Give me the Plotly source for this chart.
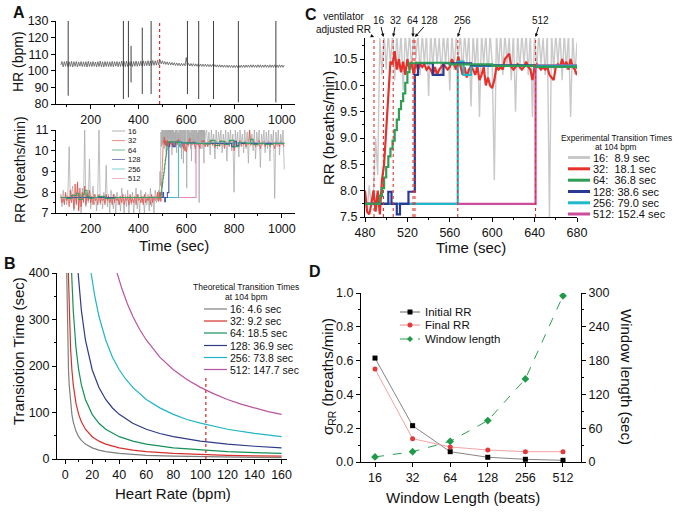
import plotly.graph_objects as go

W, H = 682, 512
FONT = "Liberation Sans, Arial, Helvetica, sans-serif"

# ─── Panel A: heart rate ─────────────────────────────────────
hr_time = list(range(75, 1011, 5))
hr_bpm = [
    103.5, 105.6, 102.4, 105.5, 102.8, 105.8, 102.5, 105.4, 102.6, 105.7,
    102.3, 105.5, 102.7, 105.6, 102.4, 105.3, 102.8, 105.6, 102.5, 105.4,
    102.6, 105.5, 102.3, 105.7, 102.6, 105.4, 102.5, 105.6, 102.7, 105.3,
    102.4, 105.5, 102.6, 105.8, 102.5, 105.4, 102.3, 105.6, 102.7, 105.5,
    102.5, 105.4, 102.6, 105.7, 102.4, 105.5, 102.8, 105.6, 102.5, 105.4,
    102.6, 105.9, 102.7, 105.6, 102.5, 105.8, 102.6, 105.5, 102.9, 105.7,
    102.6, 105.6, 102.8, 105.9, 102.7, 105.5, 102.9, 105.8, 102.8, 106.0,
    103.0, 105.7, 103.1, 106.1, 103.0, 105.9, 103.2, 106.2, 103.3, 106.0,
    103.4, 106.3, 103.5,
    106.4, 104.2, 106.0, 104.0, 105.6, 103.8, 105.4, 103.6, 105.2, 103.5,
    105.0, 103.4, 104.9, 103.2, 104.7, 103.1, 104.6, 103.0, 104.5, 103.0,
    104.4, 103.0, 108.0,
    103.0, 104.5, 102.9, 104.4, 102.8, 104.3, 102.8, 104.2, 102.7, 104.2,
    102.7, 104.1, 102.6, 104.0, 102.6, 104.0, 102.5, 103.9, 102.5, 103.8,
    102.4, 103.8, 102.4, 103.7, 102.3, 103.6, 102.2, 103.6, 102.2, 103.5,
    102.1, 103.5, 102.1, 103.4, 102.0, 103.4, 102.0, 103.3, 101.9, 103.3,
    101.9, 103.3, 101.9, 103.4, 102.0, 103.4, 102.0, 103.5, 102.0, 103.5,
    102.1, 103.5, 102.0, 103.6, 102.1, 103.6, 102.1, 103.5, 102.0, 103.6,
    102.1, 103.6, 102.0, 103.5, 102.1, 103.6, 102.1, 103.5, 102.0, 103.6,
    102.1, 103.5, 102.0, 103.6, 102.1, 103.5, 102.0, 103.6, 102.1, 103.5,
    102.1, 103.4,
]
hr_spike_time = [106, 337, 358, 369, 416, 453, 605, 652, 714, 818, 975]
hr_spike_low = [85, 83, 84, 93, 86, 86, 86, 83, 83, 81, 81]
hr_spike_high = [130, 130, 130, 115, 126, 130, 130, 130, 130, 130, 130]
vent_time = 488.5

# ─── Respiratory rate estimates (A bottom + C) ──────────────
rr_time_pre = list(range(75, 480, 5))
rr_time_zoom = list(range(480, 681, 2))
rr_time_post = list(range(685, 1011, 5))

rr16_pre = [
    7.8, 7.3, 8.1, 7.5, 7.9, 7.4, 8.0, 10.2, 7.6, 7.9,
    8.3, 7.1, 7.8, 7.5, 8.4, 7.2, 7.9, 7.0, 8.2, 7.6,
    11.0, 7.3, 8.0, 7.5, 9.6, 7.2, 7.8, 8.3, 7.4, 7.9,
    7.1, 8.1, 11.0, 7.4, 7.8, 7.2, 8.0, 7.5, 9.3, 7.3,
    7.9, 7.0, 8.1, 7.6, 7.2, 7.9, 7.0, 8.0, 7.4, 7.8,
    7.1, 8.2, 7.5, 7.0, 7.9, 7.3, 8.1, 7.0, 7.8, 7.4,
    8.0, 7.0, 7.7, 8.2, 7.2, 7.9, 7.0, 8.1, 7.5, 7.8,
    7.0, 8.0, 7.4, 7.9, 7.1, 8.2, 7.3, 7.8, 7.0, 8.1,
    7.5,
]
rr16_zoom = [
    7.9, 7.6, 8.1, 7.7, 8.0, 9.0, 8.3, 10.9, 10.2, 11.0,
    10.3, 11.0, 10.4, 11.0, 10.1, 11.0, 10.3, 11.0, 9.9, 11.0,
    10.4, 11.0, 10.3, 11.0, 10.5, 11.0, 10.2, 11.0, 10.4, 11.0,
    9.8, 11.0, 10.3, 11.0, 10.4, 10.9, 10.2, 11.0, 10.4, 11.0,
    9.9, 11.0, 10.3, 10.9, 10.5, 11.0, 10.2, 11.0, 10.4, 11.0,
    9.6, 11.0, 10.3, 11.0, 9.4, 11.0, 10.4, 11.0, 10.1, 11.0,
    10.4, 8.2, 11.0, 10.3, 11.0, 10.2, 11.0, 10.4, 10.9, 10.1,
    11.0, 9.5, 11.0, 10.3, 11.0, 10.4, 11.0, 10.2, 11.0, 9.4,
    11.0, 10.3, 11.0, 10.4, 10.9, 10.2, 11.0, 7.5, 11.0, 10.3,
    11.0, 10.4, 11.0, 10.1, 11.0, 10.3, 11.0, 9.4, 11.0, 10.2,
    10.8,
]
rr16_post = [
    11.0, 10.2, 10.9, 9.8, 11.0, 10.3, 10.8, 9.6, 11.0, 10.1,
    10.9, 10.4, 11.0, 9.9, 10.8, 10.2, 11.0, 9.5, 10.9, 10.3,
    11.0, 10.0, 10.8, 8.0, 11.0, 10.2, 10.9, 9.7, 11.0, 10.3,
    10.8, 9.9, 11.0, 10.1, 10.9, 9.4, 11.0, 10.3, 10.8, 10.0,
    11.0, 9.6, 10.9, 10.2, 11.0, 9.2, 10.8, 10.3, 11.0, 9.9,
    10.9, 10.1, 11.0, 9.5, 10.8, 10.3, 11.0, 7.7, 10.9, 10.2,
    11.0, 9.8, 10.8, 10.3, 11.0, 9.1,
]

rr32_pre = [
    7.9, 7.5, 7.7, 7.4, 8.0, 7.6, 7.8, 7.3, 8.1, 7.5,
    7.9, 7.2, 8.4, 7.4, 8.5, 7.1, 8.2, 7.3, 8.0, 7.5,
    8.3, 7.4, 7.9, 7.6, 8.1, 7.5, 7.8, 7.4, 7.9, 7.6,
    7.7, 7.4, 7.9, 7.5, 7.8, 7.6, 7.7, 7.4, 7.9, 7.6,
    7.8, 7.5, 7.7, 7.4, 7.9, 7.5, 7.8, 7.6, 7.7, 7.4,
    7.8, 7.5, 7.9, 7.4, 7.7, 7.6, 7.8, 7.4, 7.9, 7.5,
    7.7, 7.5, 7.8, 7.4, 7.9, 7.6, 7.7, 7.5, 7.8, 7.4,
    7.9, 7.5, 7.7, 7.6, 7.8, 7.4, 7.9, 7.5, 7.8, 7.6,
    7.7,
]
rr32_zoom = [
    8.0, 7.6, 7.55, 7.75, 8.0, 7.6, 8.0, 7.55, 8.2, 8.5,
    9.1, 9.9, 10.45, 10.4, 10.65, 10.3, 10.5, 10.25, 10.45, 10.2,
    10.5, 10.3, 10.45, 10.2, 10.45, 10.3, 10.4, 10.35, 10.4, 10.3,
    10.35, 10.3, 10.2, 10.35, 10.2, 10.3, 10.35, 10.4, 10.35, 10.3,
    10.35, 10.5, 10.4, 10.3, 10.55, 10.35, 10.2, 10.35, 10.15, 10.3,
    10.35, 10.3, 10.2, 10.35, 10.1, 10.2, 10.35, 10.0, 10.15, 10.0,
    9.95, 10.1, 10.35, 10.3, 10.35, 10.3, 10.5, 10.55, 10.6, 10.35,
    10.3, 10.35, 10.4, 10.35, 10.3, 10.35, 10.45, 10.35, 10.3, 10.1,
    10.35, 10.4, 10.35, 10.3, 10.35, 10.3, 10.35, 10.2, 10.15, 10.1,
    10.35, 10.4, 10.35, 10.5, 10.35, 10.45, 10.3, 10.5, 10.35, 10.3,
    10.2,
]
rr32_post = [
    10.4, 10.2, 10.45, 10.3, 10.5, 10.25, 10.4, 10.15, 10.45, 10.3,
    10.35, 10.2, 10.5, 10.3, 10.4, 10.1, 10.45, 10.3, 10.35, 10.2,
    10.5, 10.3, 10.4, 10.0, 10.45, 10.25, 10.35, 10.3, 10.5, 10.2,
    10.4, 10.3, 10.45, 10.2, 10.35, 10.3, 11.0, 10.25, 10.4, 10.3,
    10.45, 10.2, 10.35, 10.3, 10.5, 10.1, 10.4, 10.3, 10.45, 10.2,
    10.35, 10.3, 10.45, 10.2, 10.4, 10.3, 10.35, 10.1, 10.45, 10.3,
    10.4, 10.2, 10.45, 10.3, 10.35, 10.2,
]

rr64_time = [75, 100, 120, 140, 150, 165, 175, 185, 195, 210,
             230, 260, 300, 350, 400, 450, 494, 496, 498, 500,
             502, 504, 506, 508, 510, 512, 514, 516, 518, 520,
             522, 530, 560, 600, 640, 680, 700, 720, 740, 760,
             780, 800, 820, 850, 870, 880, 900, 930, 960, 1010]
rr64 = [7.75, 7.7, 7.85, 7.95, 7.65, 7.9, 8.1, 7.8, 7.7, 7.75,
        7.8, 7.7, 7.75, 7.75, 7.75, 7.75, 7.9, 8.05, 8.25, 8.45,
        8.65, 8.8, 8.95, 9.15, 9.35, 9.55, 9.7, 9.85, 10.05, 10.25,
        10.42, 10.43, 10.4, 10.37, 10.35, 10.33, 10.5, 10.25, 10.45, 10.3,
        10.5, 10.2, 10.4, 10.35, 10.55, 10.3, 10.35, 10.3, 10.35, 10.35]
rr128_time = [75, 490, 502, 505, 510, 513, 521, 527, 530, 544, 554,
              580, 640, 700, 780, 790, 800, 810, 820, 830, 900, 1010]
rr128 = [7.75, 7.75, 7.98, 7.75, 7.55, 7.75, 7.98, 10.2, 10.42, 10.2, 10.42,
         10.38, 10.35, 10.35, 10.35, 10.2, 10.45, 10.25, 10.4, 10.35, 10.35, 10.35]
rr256_time = [75, 567.5, 573, 580, 1010]
rr256 = [7.75, 10.45, 10.2, 10.37, 10.37]
rr512_time = [75, 640.9, 1010]
rr512 = [7.75, 10.38, 10.38]

window_beats = [16, 32, 64, 128, 256, 512]
exp_transition_sec = [8.9, 18.1, 36.8, 38.6, 79.0, 152.4]
theo_transition_sec = [4.6, 9.2, 18.5, 36.9, 73.8, 147.7]

# ─── Panel B: theoretical transition time vs heart rate ─────
b_hr16 = [1.2, 1.5, 2, 2.5, 3, 4, 5, 6, 8, 10, 12, 15, 20, 25, 30, 40, 50, 60, 80, 100, 120, 140, 160]
b_t16 = [400, 320, 240, 192, 160, 120, 96, 80, 60, 48, 40, 32, 24, 19.2, 16, 12, 9.6, 8, 6, 4.8, 4, 3.4, 3]
b_hr32 = [2.4, 3, 4, 5, 6, 8, 10, 12, 15, 20, 25, 30, 40, 50, 60, 80, 100, 120, 140, 160]
b_t32 = [400, 320, 240, 192, 160, 120, 96, 80, 64, 48, 38.4, 32, 24, 19.2, 16, 12, 9.6, 8, 6.9, 6]
b_hr64 = [4.8, 6, 8, 10, 12, 15, 20, 25, 30, 40, 50, 60, 80, 100, 120, 140, 160]
b_t64 = [400, 320, 240, 192, 160, 128, 96, 76.8, 64, 48, 38.4, 32, 24, 19.2, 16, 13.7, 12]
b_hr128 = [9.6, 12, 15, 20, 25, 30, 35, 40, 50, 60, 70, 80, 100, 120, 140, 160]
b_t128 = [400, 320, 256, 192, 153.6, 128, 109.7, 96, 76.8, 64, 54.9, 48, 38.4, 32, 27.4, 24]
b_hr256 = [19.2, 22, 25, 30, 35, 40, 45, 50, 60, 70, 80, 90, 100, 120, 140, 160]
b_t256 = [400, 349, 307, 256, 219, 192, 171, 154, 128, 110, 96, 85, 77, 64, 55, 48]
b_hr512 = [38.4, 42, 46, 50, 55, 60, 70, 80, 90, 100, 110, 120, 130, 140, 150, 160]
b_t512 = [400, 366, 334, 307, 279, 256, 219, 192, 171, 154, 140, 128, 118, 110, 102, 96]
b_marker_hr = [104, 104]
b_marker_t = [0, 175]

# ─── Panel D: variability vs window length ──────────────────
sigma_initial = [0.615, 0.215, 0.061, 0.028, 0.016, 0.010]
sigma_final = [0.55, 0.138, 0.089, 0.071, 0.061, 0.061]
window_sec = [9.0, 18.3, 36.7, 73.5, 147.5, 295.0]

# ─── Colours ─────────────────────────────────────────────────
A_COLORS = ["#a4a4a4", "#e5433c", "#3c9e62", "#4556a5", "#4fbecb", "#e889b8"]
A_LEG_COLORS = ["#b0b0b0", "#ec8a86", "#70b890", "#7c86bb", "#82cfd7", "#f2b3d0"]
B_COLORS = ["#7f7f7f", "#d6302c", "#14915a", "#2e3b87", "#1fb5c5", "#b9539f"]
C_COLORS = ["#c9c9c9", "#e8302a", "#2e9e55", "#283a94", "#22b8cc", "#cc4c9c"]
DOT_RED = "#e8302a"


def X(p):
    return p / W


def Y(p):
    return 1 - p / H


fig = go.Figure()

# A top: heart rate
fig.add_trace(go.Scatter(x=hr_time, y=hr_bpm, mode="lines", xaxis="x", yaxis="y",
                         line=dict(color="#5a5a5a", width=0.8)))
sx, sy = [], []
for t, lo, hi in zip(hr_spike_time, hr_spike_low, hr_spike_high):
    sx += [t, t, None]
    sy += [lo, hi, None]
fig.add_trace(go.Scatter(x=sx, y=sy, mode="lines", xaxis="x", yaxis="y",
                         line=dict(color="#2a2a2a", width=0.9)))

# A bottom + C: respiratory rate
rr_time_full = rr_time_pre + rr_time_zoom + rr_time_post
rr16_full = rr16_pre + rr16_zoom + rr16_post
rr32_full = rr32_pre + rr32_zoom + rr32_post

series = [
    (rr_time_full, rr16_full, 0, "linear"),
    (rr_time_full, rr32_full, 1, "linear"),
    (rr512_time, rr512, 5, "hv"),
    (rr256_time, rr256, 4, "hv"),
    (rr128_time, rr128, 3, "hv"),
    (rr64_time, rr64, 2, "hv"),
]
for tx, vals, ci, shape in series:
    fig.add_trace(go.Scatter(x=tx, y=vals, mode="lines", xaxis="x2", yaxis="y2",
                             line=dict(color=A_COLORS[ci], width=0.7 if ci < 2 else 1.1, shape=shape)))
for tx, vals, ci, shape in series:
    fig.add_trace(go.Scatter(x=tx, y=vals, mode="lines", xaxis="x3", yaxis="y3",
                             line=dict(color=C_COLORS[ci], width=1.4 if ci == 0 else 2.2, shape=shape)))

# B: theoretical curves
b_curves = [(b_hr16, b_t16), (b_hr32, b_t32), (b_hr64, b_t64),
            (b_hr128, b_t128), (b_hr256, b_t256), (b_hr512, b_t512)]
for (hx, ty), col in zip(b_curves, B_COLORS):
    fig.add_trace(go.Scatter(x=hx, y=ty, mode="lines", xaxis="x4", yaxis="y4",
                             line=dict(color=col, width=1.2)))
fig.add_trace(go.Scatter(x=b_marker_hr, y=b_marker_t, mode="lines", xaxis="x4", yaxis="y4",
                         line=dict(color=DOT_RED, width=1.3, dash="dot")))

# D
fig.add_trace(go.Scatter(x=window_beats, y=sigma_initial, mode="lines+markers", xaxis="x5", yaxis="y5",
                         line=dict(color="#666666", width=0.8),
                         marker=dict(symbol="square", size=5, color="black")))
fig.add_trace(go.Scatter(x=window_beats, y=sigma_final, mode="lines+markers", xaxis="x5", yaxis="y5",
                         line=dict(color="#f08a8a", width=0.8),
                         marker=dict(symbol="circle", size=5, color="#e03a3a")))
fig.add_trace(go.Scatter(x=window_beats, y=window_sec, mode="lines+markers", xaxis="x5", yaxis="y6",
                         line=dict(color="#2aa050", width=1, dash="dash"),
                         marker=dict(symbol="diamond", size=6, color="#1f9a48")))

# ─── Dotted transition markers ──────────────────────────────
shapes = [dict(type="line", xref="x", yref="y domain", x0=vent_time, x1=vent_time, y0=0, y1=1,
               line=dict(color=DOT_RED, width=1.2, dash="dot"))]
for t in [vent_time] + [vent_time + s for s in exp_transition_sec]:
    shapes.append(dict(type="line", xref="x3", yref="y3 domain", x0=t, x1=t, y0=0, y1=1,
                       line=dict(color=DOT_RED, width=1.1, dash="dot")))

annotations = []


def txt(x, y, text, size, **kw):
    d = dict(x=X(x), y=Y(y), xref="paper", yref="paper", text=text, showarrow=False,
             xanchor="center", yanchor="middle",
             font=dict(family=FONT, size=size, color="#111"))
    d.update(kw)
    annotations.append(d)


# panel letters
for letter, lx, ly in [("A", 19, 12), ("B", 10, 263), ("C", 311, 14), ("D", 315, 271)]:
    txt(lx, ly, "<b>%s</b>" % letter, 16)

# axis titles
txt(18, 62, "HR (bpm)", 14, textangle=-90)
txt(20, 170, "RR (breaths/min)", 14, textangle=-90)
txt(174, 245, "Time (sec)", 15)
txt(328, 128, "RR (breaths/min)", 15, textangle=-90)
txt(471, 247, "Time (sec)", 15)
txt(18, 351, "Transiotion Time (sec)", 15, textangle=-90)
txt(173, 493, "Heart Rate (bpm)", 15)
txt(328, 377, "σ<sub>RR</sub> (breaths/min)", 15, textangle=-90)
txt(627, 377, "Window length (sec)", 15, textangle=90)
txt(463, 497, "Window Length (beats)", 15)

# arrows above C
arrow_labels = ["ventilator<br>adjusted RR", "16", "32", "64", "128", "256", "512"]
arrow_dx = [-31, -4, 3, 0, 15, 5, 5]
arrow_times = [vent_time] + [vent_time + s for s in exp_transition_sec]
for lab, t, dx in zip(arrow_labels, arrow_times, arrow_dx):
    annotations.append(dict(x=t, y=Y(37), xref="x3", yref="paper", text=lab, showarrow=True,
                            ax=dx, ay=-17 if lab[0].isdigit() else -14,
                            arrowhead=2, arrowsize=0.7, arrowwidth=1, arrowcolor="#111",
                            standoff=0, font=dict(family=FONT, size=10, color="#111")))


# ─── Manual legends ──────────────────────────────────────────
def legend_block(x0, x1, ys, labels, colors, width, size, dash=None):
    for yy, lab, col in zip(ys, labels, colors):
        shapes.append(dict(type="line", xref="paper", yref="paper", x0=X(x0), x1=X(x1),
                           y0=Y(yy), y1=Y(yy), line=dict(color=col, width=width, dash=dash)))
        txt(x1 + 1, yy, lab, size, xanchor="left", yanchor="middle")


# A bottom
legend_block(112, 125, [131, 140.6, 150, 159.5, 169, 178.5],
             [str(n) for n in window_beats], A_LEG_COLORS, 1, 7.5)
# B
txt(246, 287, "Theoretical Transition Times", 8.5)
txt(246, 297, "at 104 bpm", 8.5)
legend_block(204, 227, [309, 321, 333, 345.5, 357.5, 369.5],
             ["%d: %.1f sec" % (n, s) for n, s in zip(window_beats, theo_transition_sec)],
             B_COLORS, 1.2, 10.5)
# C
txt(616, 137.5, "Experimental Transition Times", 8.3)
txt(616, 146.5, "at 104 bpm", 8.3)
c_labels = []
for n, s in zip(window_beats, exp_transition_sec):
    pad = "\u00a0\u00a0" if n < 100 else "\u00a0"
    c_labels.append("%d:%s%.1f sec" % (n, pad, s))
legend_block(568, 590, [157.5, 168.8, 180.2, 191.5, 202.8, 214],
             c_labels, C_COLORS, 3, 11)
# D
d_ys = [312, 325, 339]
d_labels = ["Initial RR", "Final RR", "Window length"]
d_lines = [("#666666", None), ("#f08a8a", None), ("#2aa050", "dash")]
for yy, lab, (col, dash) in zip(d_ys, d_labels, d_lines):
    shapes.append(dict(type="line", xref="paper", yref="paper", x0=X(400), x1=X(420),
                       y0=Y(yy), y1=Y(yy), line=dict(color=col, width=1, dash=dash)))
    txt(423, yy, lab, 11.5, xanchor="left", yanchor="middle")
shapes.append(dict(type="rect", xref="paper", yref="paper", x0=X(407.5), x1=X(412.5),
                   y0=Y(314.5), y1=Y(309.5), line=dict(width=0), fillcolor="black"))
shapes.append(dict(type="circle", xref="paper", yref="paper", x0=X(407.5), x1=X(412.5),
                   y0=Y(327.5), y1=Y(322.5), line=dict(width=0), fillcolor="#e03a3a"))
shapes.append(dict(type="path", xref="paper", yref="paper",
                   path="M %f %f L %f %f L %f %f L %f %f Z" % (X(410), Y(336), X(413), Y(339),
                                                                X(410), Y(342), X(407), Y(339)),
                   line=dict(width=0), fillcolor="#1f9a48"))


# ─── Axes ───────────────────────────────────────────────────
def axis_style(**kw):
    base = dict(showline=True, linecolor="black", linewidth=1, ticks="outside", ticklen=4,
                tickwidth=1, tickcolor="black", showgrid=False, zeroline=False, automargin=False,
                tickfont=dict(size=12.5, family=FONT, color="#111"))
    base.update(kw)
    return base


def minor(step):
    return dict(dtick=step, ticks="outside", ticklen=2, tickcolor="black", showgrid=False)


ax_a = [X(56), X(295)]
fig.update_layout(
    template="none",
    width=W, height=H, margin=dict(l=0, r=0, t=0, b=0, autoexpand=False),
    paper_bgcolor="white", plot_bgcolor="white", showlegend=False,
    font=dict(family=FONT, color="#111"),
    xaxis=axis_style(domain=ax_a, range=[55, 1055], anchor="y", dtick=200, tick0=0, minor=minor(100)),
    yaxis=axis_style(domain=[Y(104), Y(21)], range=[80, 130], anchor="x", dtick=10),
    xaxis2=axis_style(domain=ax_a, range=[55, 1055], anchor="y2", dtick=200, tick0=0, minor=minor(100)),
    yaxis2=axis_style(domain=[Y(213), Y(130)], range=[7, 11], anchor="x2", dtick=1, minor=minor(0.5)),
    xaxis3=axis_style(domain=[X(365), X(577)], range=[480, 680], anchor="y3", dtick=40, tick0=480,
                      minor=minor(20)),
    yaxis3=axis_style(domain=[Y(217), Y(38)], range=[7.5, 10.9], anchor="x3", dtick=0.5, tick0=7.5,
                      tickformat=".1f", minor=minor(0.25)),
    xaxis4=axis_style(domain=[X(57), X(287)], range=[-6, 164], anchor="y4", dtick=20, tick0=0,
                      minor=minor(10)),
    yaxis4=axis_style(domain=[Y(459), Y(273)], range=[0, 400], anchor="x4", dtick=100, minor=minor(50)),
    xaxis5=axis_style(domain=[X(361), X(581)], type="log", range=[1.092, 2.8535], anchor="y5",
                      tickmode="array", tickvals=window_beats, ticktext=[str(n) for n in window_beats]),
    yaxis5=axis_style(domain=[Y(462), Y(293)], range=[0, 1.0], anchor="x5", dtick=0.2,
                      tickformat=".1f", minor=minor(0.1)),
    yaxis6=axis_style(overlaying="y5", side="right", range=[0, 300], anchor="x5", dtick=60,
                      minor=minor(30)),
    shapes=shapes,
    annotations=annotations,
)

# the page's default body margin would shift the fixed-size figure
fig.write_html("out.html", config={"displayModeBar": False},
               post_script="document.body.style.margin='0';")
